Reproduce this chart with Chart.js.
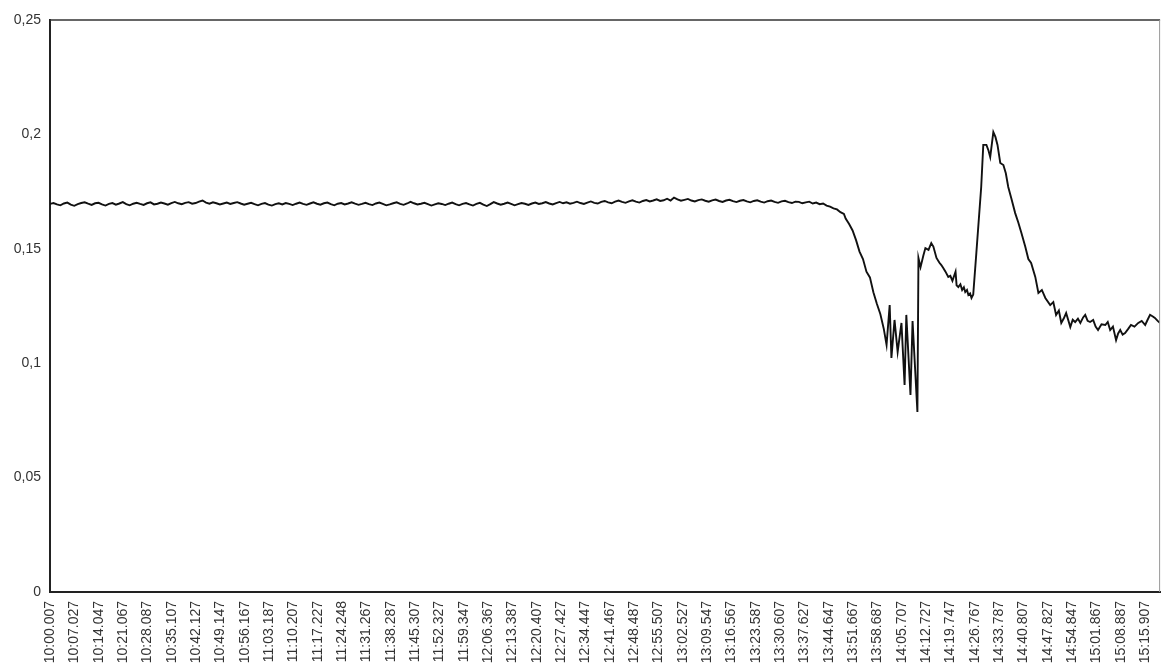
<!DOCTYPE html>
<html>
<head>
<meta charset="utf-8">
<script src="https://cdn.jsdelivr.net/npm/chart.js@4"></script>
<style>
html,body{margin:0;padding:0;background:#fff;}
#c{display:block;}
</style>
</head>
<body>
<canvas id="c" width="1163" height="668"></canvas>
<script>
// X tick labels (one every 7.02 minutes)
const tickLabels = ["10:00.007","10:07.027","10:14.047","10:21.067","10:28.087","10:35.107","10:42.127","10:49.147","10:56.167","11:03.187","11:10.207","11:17.227","11:24.248","11:31.267","11:38.287","11:45.307","11:52.327","11:59.347","12:06.367","12:13.387","12:20.407","12:27.427","12:34.447","12:41.467","12:48.487","12:55.507","13:02.527","13:09.547","13:16.567","13:23.587","13:30.607","13:37.627","13:44.647","13:51.667","13:58.687","14:05.707","14:12.727","14:19.747","14:26.767","14:33.787","14:40.807","14:47.827","14:54.847","15:01.867","15:08.887","15:15.907"];
const tickStepMinutes = 7.02;
const yTickLabels = ["0","0,05","0,1","0,15","0,2","0,25"];

// Sample times (minutes after 10:00) and measured values
const timesFlat = [0,1,2,3,4,5,6,7,8,9,10,11,12,13,14,15,16,17,18,19,20,21,22,23,24,25,26,27,28,29,30,31,32,33,34,35,36,37,38,39,40,41,42,43,44,45,46,47,48,49,50,51,52,53,54,55,56,57,58,59,60,61,62,63,64,65,66,67,68,69,70,71,72,73,74,75,76,77,78,79,80,81,82,83,84,85,86,87,88,89,90,91,92,93,94,95,96,97,98,99,100,101,102,103,104,105,106,107,108,109,110,111,112,113,114,115,116,117,118,119,120,121,122,123,124,125,126,127,128,129,130,131,132,133,134,135,136,137,138,139,140,141,142,143,144,145,146,147,148,149,150,151,152,153,154,155,156,157,158,159,160,161,162,163,164,165,166,167,168,169,170,171,172,173,174,175,176,177,178,179,180,181,182,183,184,185,186,187,188,189,190,191,192,193,194,195,196,197,198,199,200,201,202,203,204,205,206,207,208,209,210,211,212,213,214,215];
const valuesFlat = [
0.1696,0.1700,0.1694,0.1690,0.1698,0.1702,0.1693,0.1688,0.1695,0.1700,
0.1703,0.1697,0.1692,0.1699,0.1701,0.1694,0.1689,0.1696,0.1700,0.1693,
0.1698,0.1704,0.1695,0.1690,0.1697,0.1701,0.1696,0.1692,0.1699,0.1703,
0.1694,0.1697,0.1702,0.1698,0.1693,0.1700,0.1705,0.1699,0.1695,0.1701,
0.1704,0.1697,0.1700,0.1706,0.1711,0.1702,0.1697,0.1703,0.1699,0.1694,
0.1698,0.1702,0.1696,0.1700,0.1704,0.1698,0.1693,0.1697,0.1701,0.1695,
0.1690,0.1696,0.1700,0.1693,0.1689,0.1695,0.1699,0.1694,0.1700,0.1696,
0.1691,0.1697,0.1702,0.1696,0.1692,0.1698,0.1703,0.1697,0.1693,0.1699,
0.1702,0.1695,0.1690,0.1697,0.1700,0.1694,0.1698,0.1703,0.1697,0.1692,
0.1696,0.1701,0.1695,0.1691,0.1698,0.1702,0.1696,0.1690,0.1694,0.1699,
0.1703,0.1696,0.1692,0.1698,0.1705,0.1699,0.1694,0.1697,0.1701,0.1695,
0.1689,0.1694,0.1699,0.1696,0.1691,0.1697,0.1702,0.1695,0.1690,0.1696,
0.1700,0.1694,0.1689,0.1696,0.1701,0.1693,0.1687,0.1695,0.1704,0.1698,
0.1693,0.1697,0.1702,0.1696,0.1690,0.1695,0.1700,0.1697,0.1692,0.1698,
0.1702,0.1696,0.1699,0.1704,0.1698,0.1694,0.1700,0.1705,0.1699,0.1703,
0.1697,0.1701,0.1706,0.1700,0.1696,0.1702,0.1707,0.1701,0.1698,0.1705,
0.1709,0.1703,0.1699,0.1706,0.1711,0.1705,0.1701,0.1707,0.1712,0.1706,
0.1702,0.1709,0.1713,0.1707,0.1711,0.1716,0.1709,0.1712,0.1719,0.1711,
0.1724,0.1716,0.1710,0.1714,0.1718,0.1711,0.1707,0.1713,0.1716,0.1710,
0.1706,0.1712,0.1715,0.1709,0.1705,0.1711,0.1714,0.1708,0.1704,0.1710,
0.1713,0.1707,0.1703,0.1709,0.1712,0.1706,0.1702,0.1708,0.1711,0.1705,
0.1701,0.1707,0.1710,0.1704,0.1700,0.1706];

const timesEvent = [216,217,218,219,220,221,222,223,224,225,226,227,228,229,229.5,230.5,231.5,232.5,233.5,234.5,235.5,236.5,237.5,238.5,239.5,240.5,241.3,242.2,242.7,243.6,244.5,245.6,246.5,247.0,248.2,248.8,250.2,250.5,251.1,251.9,252.5,253.4,254.2,254.8,255.7,256.5,257.1,257.7,258.3,259.1,259.7,260.3,261.2,261.5,262.0,262.6,263.1,263.6,264.0,264.5,264.9,265.4,265.8,266.3,267.2,268.6,269.2,270.1,270.7,271.2,272.1,272.7,273.3,274.1,275.0,275.7,276.4,277.3,278.4,279.3,280.2,281.3,282.2,283.0,284.2,285.1,286.1,287.1,288.5,289.4,290.2,291.0,291.7,292.4,293.1,294.3,295.0,295.7,296.5,297.2,298.0,298.6,299.3,300.0,300.9,301.6,302.3,303.3,304.4,305.1,305.8,306.6,307.5,308.1,308.7,309.4,310.1,311.0,311.8,312.8,313.9,314.9,315.9,316.6,317.3,318.0,318.7,319.5,320.2];
const valuesEvent = [0.1705,0.1699,0.1703,0.1706,0.1698,0.1702,0.1695,0.1698,0.1689,0.1684,0.1677,0.1672,0.1660,0.1652,0.1632,0.1608,0.1580,0.1538,0.1488,0.1455,0.1400,0.1375,0.1310,0.1260,0.1215,0.1150,0.1080,0.1254,0.1023,0.1189,0.1049,0.1176,0.0905,0.1211,0.0861,0.1184,0.0787,0.1460,0.1420,0.1470,0.1503,0.1495,0.1525,0.1510,0.1460,0.1440,0.1429,0.1415,0.1400,0.1377,0.1382,0.1360,0.1400,0.1340,0.1333,0.1345,0.1320,0.1332,0.1311,0.1320,0.1298,0.1305,0.1285,0.1300,0.1482,0.1770,0.1954,0.1954,0.1930,0.1901,0.2010,0.1989,0.1954,0.1875,0.1866,0.1830,0.1770,0.1720,0.1656,0.1615,0.1569,0.1510,0.1455,0.1438,0.1377,0.1307,0.1320,0.1285,0.1254,0.1267,0.1211,0.1230,0.1176,0.1195,0.1219,0.1158,0.1190,0.1180,0.1195,0.1176,0.1200,0.1211,0.1185,0.1180,0.1189,0.1160,0.1145,0.1170,0.1167,0.1180,0.1145,0.1160,0.1101,0.1130,0.1145,0.1125,0.1132,0.1150,0.1167,0.1160,0.1176,0.1185,0.1167,0.1190,0.1211,0.1205,0.1198,0.1185,0.1176];

const times = timesFlat.concat(timesEvent);
const values = valuesFlat.concat(valuesEvent);
const points = times.map((t, i) => ({ x: t, y: values[i] }));

const FONT = "'Liberation Sans', Arial, sans-serif";

const framePlugin = {
  id: 'frame',
  afterDraw(chart) {
    const { ctx, chartArea: a } = chart;
    ctx.save();
    ctx.strokeStyle = '#333';
    ctx.lineWidth = 1.5;
    ctx.beginPath();
    ctx.moveTo(a.left, a.top);
    ctx.lineTo(a.right, a.top);
    ctx.stroke();
    ctx.strokeStyle = '#999';
    ctx.lineWidth = 1;
    ctx.beginPath();
    ctx.moveTo(a.right - 0.5, a.top);
    ctx.lineTo(a.right - 0.5, a.bottom);
    ctx.stroke();
    ctx.restore();
  }
};

new Chart(document.getElementById('c'), {
  type: 'line',
  data: {
    datasets: [{
      data: points,
      borderColor: '#111',
      borderWidth: 1.9,
      pointRadius: 0,
      tension: 0,
      fill: false
    }]
  },
  options: {
    responsive: false,
    animation: false,
    devicePixelRatio: 1,
    layout: { padding: { top: 20, right: 1, left: 0, bottom: 0 } },
    plugins: { legend: { display: false }, tooltip: { enabled: false } },
    scales: {
      x: {
        type: 'linear',
        min: 0,
        max: 320.2,
        grid: { display: false },
        border: { color: '#222', width: 2 },
        afterBuildTicks(scale) {
          scale.ticks = tickLabels.map((_, i) => ({ value: i * tickStepMinutes }));
        },
        afterFit(scale) { scale.height = 76; },
        ticks: {
          autoSkip: false,
          maxRotation: 90,
          minRotation: 90,
          padding: 1,
          color: '#333',
          font: { family: FONT, size: 14 },
          callback: (v, i) => tickLabels[i]
        }
      },
      y: {
        type: 'linear',
        min: 0,
        max: 0.25,
        grid: { display: false },
        border: { color: '#222', width: 2 },
        afterFit(scale) { scale.width = 50; },
        ticks: {
          stepSize: 0.05,
          padding: 1,
          color: '#333',
          font: { family: FONT, size: 14 },
          callback: (v, i) => yTickLabels[i]
        }
      }
    }
  },
  plugins: [framePlugin]
});
</script>
</body>
</html>
